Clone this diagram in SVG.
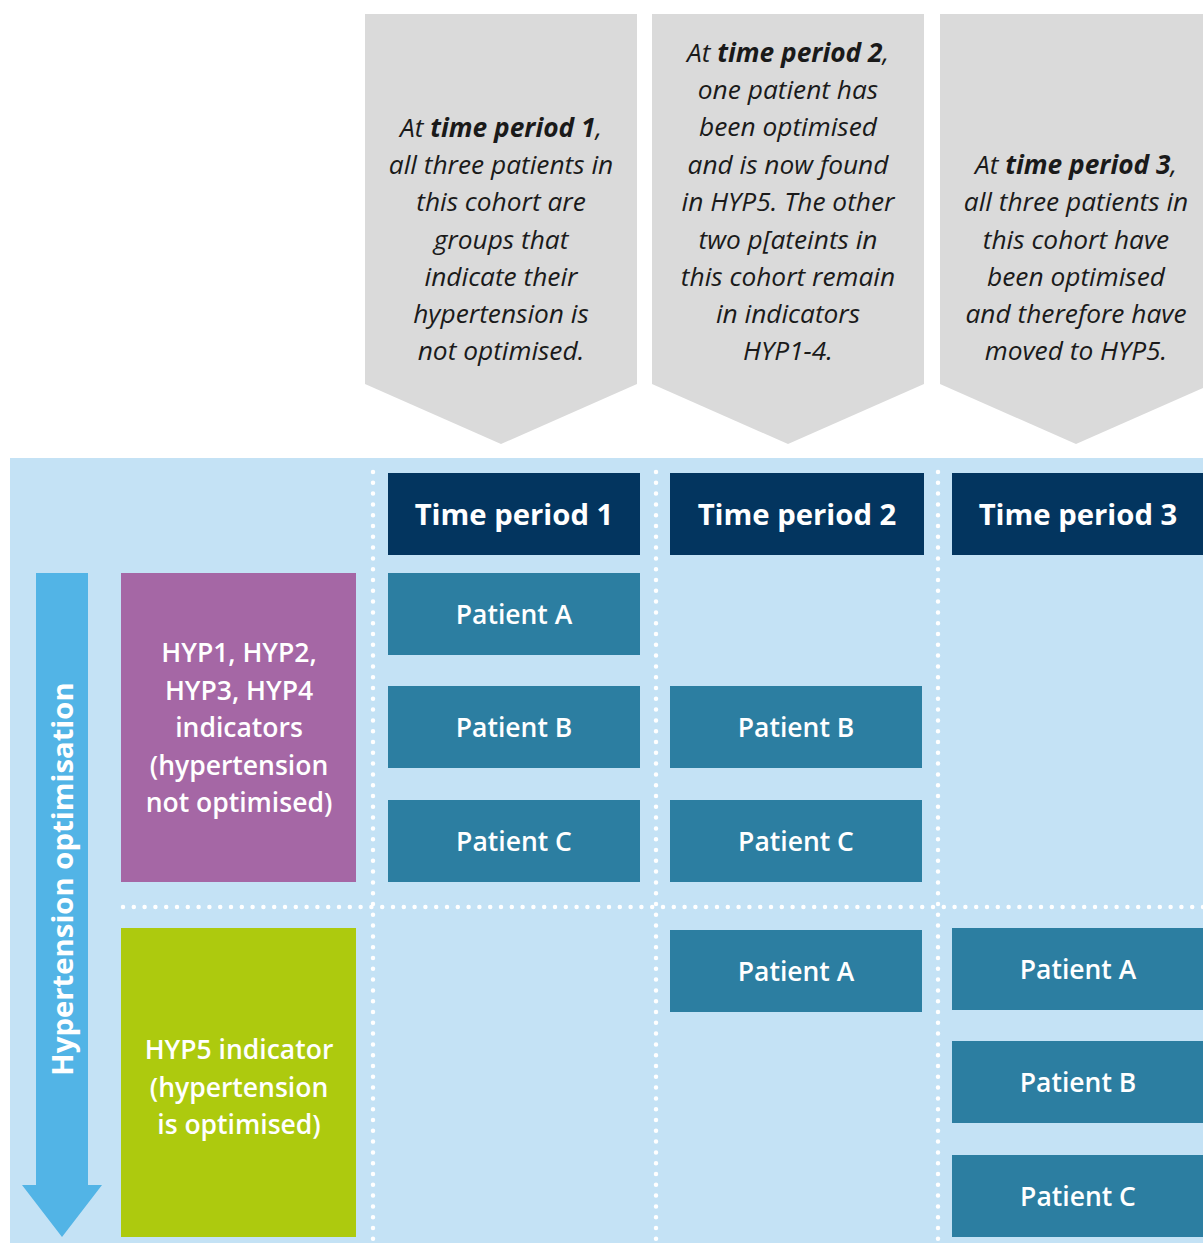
<svg xmlns="http://www.w3.org/2000/svg" width="1203" height="1243" viewBox="0 0 1203 1243">
<defs>
<style>
.chev{fill:#dadada}
.note{font-family:"Open Sans","Liberation Sans",sans-serif;font-style:italic;font-size:26.3px;fill:#1a1a1a;text-anchor:middle}
.note tspan.b{font-weight:bold}
.hdr{fill:#03355f}
.hdrt{font-family:"Open Sans","Liberation Sans",sans-serif;font-weight:bold;font-size:29.3px;fill:#fff;text-anchor:middle}
.pat{fill:#2c7ea1}
.patt{font-family:"Open Sans","Liberation Sans",sans-serif;font-weight:600;font-size:26.5px;fill:#fff;text-anchor:middle}
.cat{font-family:"Open Sans","Liberation Sans",sans-serif;font-weight:600;font-size:26.5px;fill:#fff;text-anchor:middle}
.dot{stroke:#fff;stroke-width:4.5;stroke-linecap:round;stroke-dasharray:0 10.8;fill:none}
</style>
</defs>
<rect x="10" y="458" width="1193" height="785" fill="#c4e2f5"/>

<g id="notes">
<g id="note1">
<polygon class="chev" points="365,14 637,14 637,384 501,444 365,384"/>
<text class="note"><tspan x="501" y="137">At <tspan class="b">time period 1</tspan>,</tspan><tspan x="501" y="174">all three patients in</tspan><tspan x="501" y="211">this cohort are</tspan><tspan x="501" y="249">groups that</tspan><tspan x="501" y="286">indicate their</tspan><tspan x="501" y="323">hypertension is</tspan><tspan x="501" y="360">not optimised.</tspan></text>
</g>
<g id="note2">
<polygon class="chev" points="652,14 924,14 924,384 788,444 652,384"/>
<text class="note"><tspan x="788" y="62">At <tspan class="b">time period 2</tspan>,</tspan><tspan x="788" y="99">one patient has</tspan><tspan x="788" y="136">been optimised</tspan><tspan x="788" y="174">and is now found</tspan><tspan x="788" y="211">in HYP5. The other</tspan><tspan x="788" y="249">two p[ateints in</tspan><tspan x="788" y="286">this cohort remain</tspan><tspan x="788" y="323">in indicators</tspan><tspan x="788" y="360">HYP1-4.</tspan></text>
</g>
<g id="note3">
<polygon class="chev" points="940,14 1212,14 1212,384 1076,444 940,384"/>
<text class="note"><tspan x="1076" y="174">At <tspan class="b">time period 3</tspan>,</tspan><tspan x="1076" y="211">all three patients in</tspan><tspan x="1076" y="249">this cohort have</tspan><tspan x="1076" y="286">been optimised</tspan><tspan x="1076" y="323">and therefore have</tspan><tspan x="1076" y="360">moved to HYP5.</tspan></text>
</g>
</g>

<g id="connectors">
<line class="dot" x1="373" y1="472" x2="373" y2="1243"/>
<line class="dot" x1="656" y1="472" x2="656" y2="1243"/>
<line class="dot" x1="938" y1="472" x2="938" y2="1243"/>
<line class="dot" x1="123" y1="907" x2="1203" y2="907"/>
</g>

<g id="axis-arrow">
<polygon fill="#52b4e6" points="36,573 88,573 88,1185 102,1185 62,1237 22,1185 36,1185"/>
<text transform="translate(73,879) rotate(-90)" font-family="'Open Sans','Liberation Sans',sans-serif" font-weight="bold" font-size="29.3" fill="#fff" text-anchor="middle">Hypertension optimisation</text>
</g>

<g id="cat-not-optimised">
<rect x="121" y="573" width="235" height="309" fill="#a567a5"/>
<text class="cat"><tspan x="239" y="662">HYP1, HYP2,</tspan><tspan x="239" y="700">HYP3, HYP4</tspan><tspan x="239" y="737">indicators</tspan><tspan x="239" y="775">(hypertension</tspan><tspan x="239" y="812">not optimised)</tspan></text>
</g>
<g id="cat-optimised">
<rect x="121" y="928" width="235" height="309" fill="#adca0e"/>
<text class="cat"><tspan x="239" y="1059">HYP5 indicator</tspan><tspan x="239" y="1097">(hypertension</tspan><tspan x="239" y="1134">is optimised)</tspan></text>
</g>

<g id="hdr1"><rect class="hdr" x="388" y="473" width="252" height="82"/><text class="hdrt" x="514" y="525">Time period 1</text></g>
<g id="hdr2"><rect class="hdr" x="670" y="473" width="254" height="82"/><text class="hdrt" x="797" y="525">Time period 2</text></g>
<g id="hdr3"><rect class="hdr" x="952" y="473" width="251" height="82"/><text class="hdrt" x="1078" y="525">Time period 3</text></g>

<g id="t1-patient-a"><rect class="pat" x="388" y="573" width="252" height="82"/><text class="patt" x="514" y="624">Patient A</text></g>
<g id="t1-patient-b"><rect class="pat" x="388" y="686" width="252" height="82"/><text class="patt" x="514" y="737">Patient B</text></g>
<g id="t1-patient-c"><rect class="pat" x="388" y="800" width="252" height="82"/><text class="patt" x="514" y="851">Patient C</text></g>

<g id="t2-patient-b"><rect class="pat" x="670" y="686" width="252" height="82"/><text class="patt" x="796" y="737">Patient B</text></g>
<g id="t2-patient-c"><rect class="pat" x="670" y="800" width="252" height="82"/><text class="patt" x="796" y="851">Patient C</text></g>
<g id="t2-patient-a"><rect class="pat" x="670" y="930" width="252" height="82"/><text class="patt" x="796" y="981">Patient A</text></g>

<g id="t3-patient-a"><rect class="pat" x="952" y="928" width="251" height="82"/><text class="patt" x="1078" y="979">Patient A</text></g>
<g id="t3-patient-b"><rect class="pat" x="952" y="1041" width="251" height="82"/><text class="patt" x="1078" y="1092">Patient B</text></g>
<g id="t3-patient-c"><rect class="pat" x="952" y="1155" width="251" height="82"/><text class="patt" x="1078" y="1206">Patient C</text></g>
</svg>
